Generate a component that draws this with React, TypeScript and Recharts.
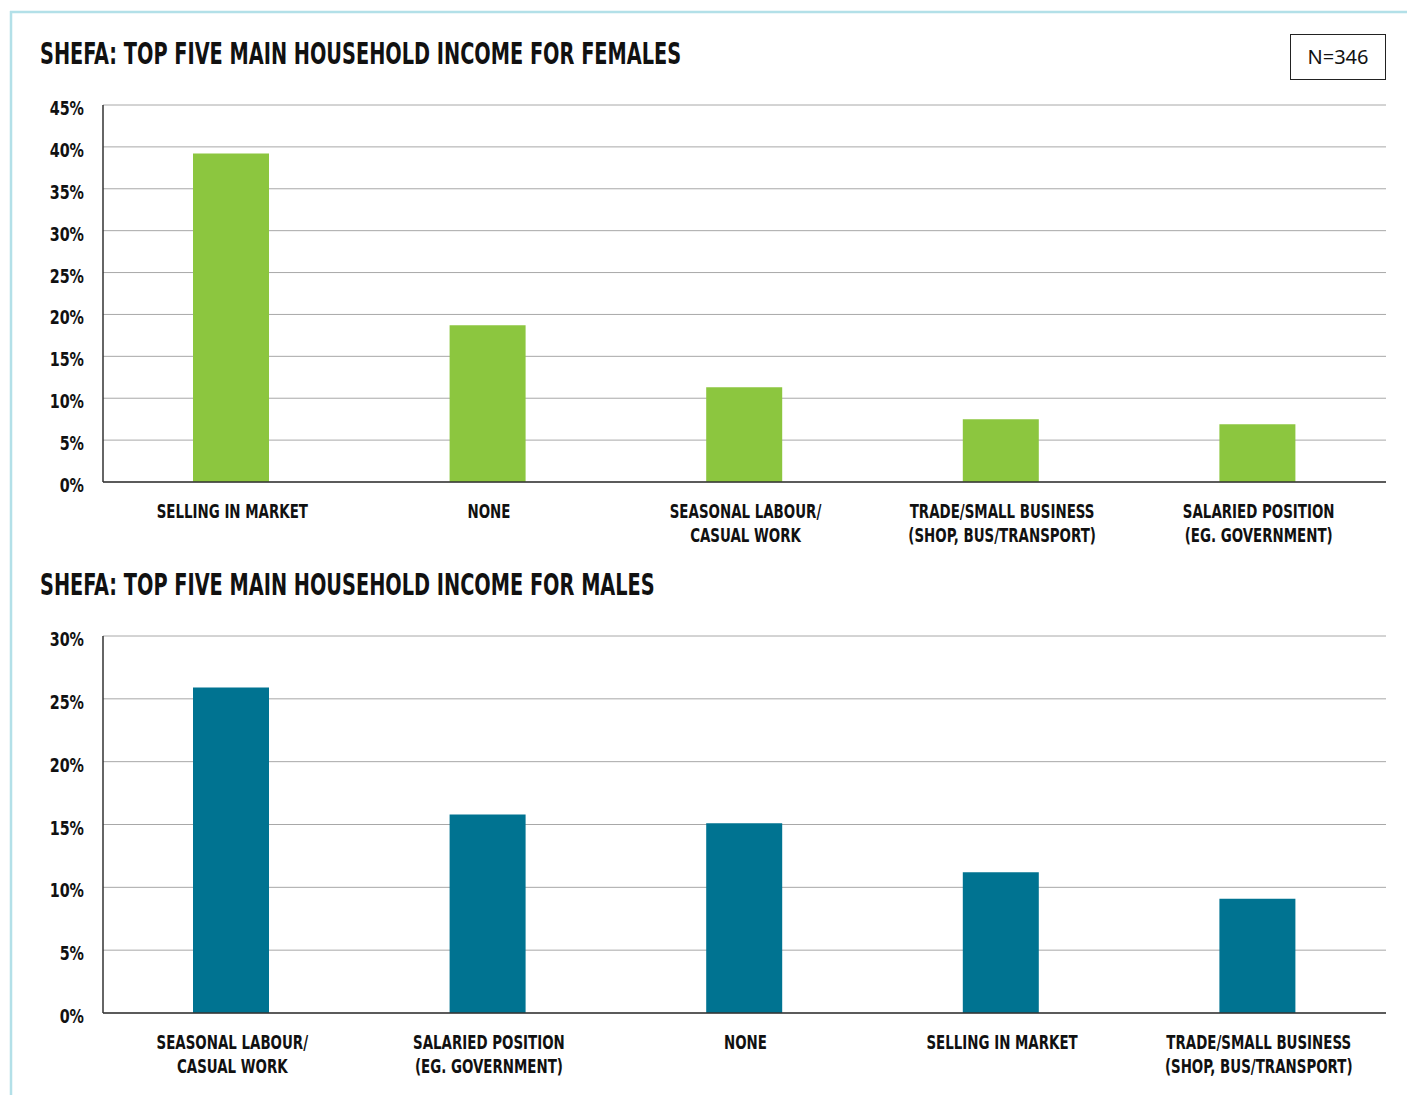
import { BarChart, Bar, XAxis, YAxis, CartesianGrid } from "recharts";

const femaleCategories = [
  "SELLING IN MARKET",
  "NONE",
  "SEASONAL LABOUR/\nCASUAL WORK",
  "TRADE/SMALL BUSINESS\n(SHOP, BUS/TRANSPORT)",
  "SALARIED POSITION\n(EG. GOVERNMENT)",
];
const femaleValues = [39.2, 18.7, 11.3, 7.5, 6.9];
const femaleTicks = [0, 5, 10, 15, 20, 25, 30, 35, 40, 45];

const maleCategories = [
  "SEASONAL LABOUR/\nCASUAL WORK",
  "SALARIED POSITION\n(EG. GOVERNMENT)",
  "NONE",
  "SELLING IN MARKET",
  "TRADE/SMALL BUSINESS\n(SHOP, BUS/TRANSPORT)",
];
const maleValues = [25.9, 15.8, 15.1, 11.2, 9.1];
const maleTicks = [0, 5, 10, 15, 20, 25, 30];

const FONT = "'DejaVu Sans Condensed', 'DejaVu Sans', sans-serif";
const SX = 0.728;

const CategoryTick = ({ x, y, payload }: any) => {
  const lines = String(payload.value).split("\n");
  return (
    <g>
      {lines.map((line, i) => (
        <text
          key={i}
          transform={`translate(${x + 1},${y + 36 + i * 24}) scale(0.745,1)`}
          textAnchor="middle"
          fontFamily={FONT}
          fontWeight="bold"
          fontSize={20}
          fill="#111"
        >
          {line}
        </text>
      ))}
    </g>
  );
};

const PercentTick = ({ x, y, payload }: any) => (
  <text
    transform={`translate(${x},${y + 10}) scale(0.84,1)`}
    textAnchor="end"
    fontFamily={FONT}
    fontWeight="bold"
    fontSize={19}
    fill="#111"
  >
    {`${payload.value}%`}
  </text>
);

function IncomeChart({ categories, values, ticks, color, height, xHeight, top, marginTop }: any) {
  const data = categories.map((name: string, i: number) => ({ name, value: values[i] }));
  return (
    <div style={{ position: "absolute", left: 0, top, width: 1407, height }}>
      <BarChart width={1407} height={height} data={data} margin={{ top: marginTop, right: 21, left: 0, bottom: 0 }}>
        <CartesianGrid vertical={false} stroke="#a8a8a8" strokeWidth={1} />
        <XAxis
          dataKey="name"
          height={xHeight}
          tickLine={false}
          tickSize={0}
          tickMargin={0}
          interval={0}
          tick={<CategoryTick />}
          axisLine={{ stroke: "#333", strokeWidth: 1.5 }}
        />
        <YAxis
          width={103}
          domain={[0, ticks[ticks.length - 1]]}
          ticks={ticks}
          tickLine={false}
          tickSize={0}
          tickMargin={19}
          tick={<PercentTick />}
          axisLine={{ stroke: "#333", strokeWidth: 1.5 }}
          interval={0}
        />
        <Bar dataKey="value" fill={color} barSize={76} isAnimationActive={false} />
      </BarChart>
    </div>
  );
}

export default function App() {
  return (
    <div style={{ position: "fixed", left: 0, top: 0, width: 1407, height: 1095, background: "#fff", overflow: "hidden" }}>
      <svg width={1407} height={1095} style={{ position: "absolute", left: 0, top: 0 }}>
        <line x1={10} y1={12} x2={1407} y2={12} stroke="#b3e0e8" strokeWidth={2.5} />
        <line x1={11} y1={11} x2={11} y2={1095} stroke="#b3e0e8" strokeWidth={2.5} />
        <text
          transform={`translate(40,64) scale(${SX},1)`}
          fontFamily={FONT}
          fontWeight="bold"
          fontSize={29.5}
          fill="#111"
        >
          SHEFA: TOP FIVE MAIN HOUSEHOLD INCOME FOR FEMALES
        </text>
        <text
          transform={`translate(40,595) scale(${SX},1)`}
          fontFamily={FONT}
          fontWeight="bold"
          fontSize={29.5}
          fill="#111"
        >
          SHEFA: TOP FIVE MAIN HOUSEHOLD INCOME FOR MALES
        </text>
        <rect x={1290.5} y={34.5} width={95} height={45} fill="none" stroke="#222" strokeWidth={1} />
        <text x={1338} y={64} textAnchor="middle" fontFamily="'Noto Sans', sans-serif" fontSize={20} fill="#111">
          N=346
        </text>
      </svg>
      <IncomeChart categories={femaleCategories} values={femaleValues} ticks={femaleTicks} color="#8cc63f" height={470} xHeight={78} top={90} marginTop={15} />
      <IncomeChart categories={maleCategories} values={maleValues} ticks={maleTicks} color="#007391" height={475} xHeight={82} top={620} marginTop={16} />
    </div>
  );
}
